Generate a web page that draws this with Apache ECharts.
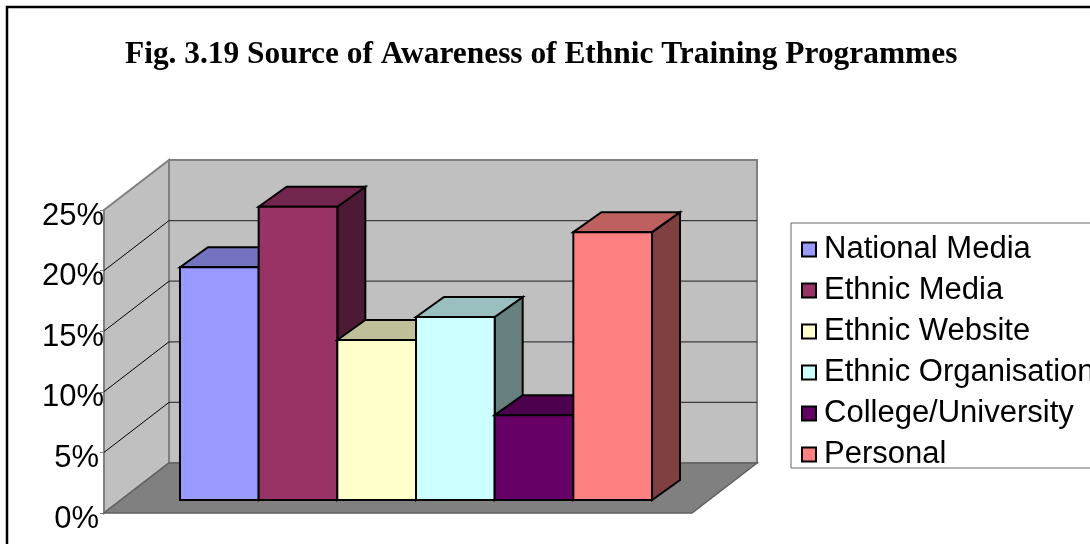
<!DOCTYPE html>
<html><head><meta charset="utf-8">
<style>html,body{margin:0;padding:0;background:#fff}#c{width:1090px;height:544px}</style>
<script src="https://cdn.jsdelivr.net/npm/echarts@6/dist/echarts.min.js"></script>
</head><body><div id="c"></div>
<script>
const titleText = 'Fig. 3.19 Source of Awareness of Ethnic Training Programmes';
const seriesNames = ['National Media','Ethnic Media','Ethnic Website','Ethnic Organisation','College/University','Personal'];
const seriesValues = [19.2,24.2,13.2,15.1,7.0,22.1];
const seriesColors = ['#9999FF','#993366','#FFFFCC','#CCFFFF','#660066','#FF8080'];
const yTicks = [0,5,10,15,20,25];

const wallDepth = [65,-50], barDepth = [28,-20], barFront = [18,-13], barShare = 0.1338;
function shade(hex,f){
  const n=parseInt(hex.slice(1),16);
  return 'rgb('+[(n>>16)&255,(n>>8)&255,n&255].map(c=>Math.round(c*f)).join(',')+')';
}
function poly(points,fill,stroke,lw){
  return {type:'polygon',shape:{points},style:{fill,stroke,lineWidth:lw,lineJoin:'miter'}};
}
function line(a,b,stroke,lw){
  return {type:'line',shape:{x1:a[0],y1:a[1],x2:b[0],y2:b[1]},style:{stroke,lineWidth:lw}};
}
function renderWalls(params,api){
  const s=params.coordSys, L=s.x, R=s.x+s.width;
  const y0=api.coord([0,0])[1], yT=api.coord([0,yTicks[yTicks.length-1]])[1];
  const dx=wallDepth[0], dy=wallDepth[1], edge='#808080';
  const ch=[
    poly([[L+dx,yT+dy],[R+dx,yT+dy],[R+dx,y0+dy],[L+dx,y0+dy]],'#C0C0C0',edge,2),
    poly([[L,yT],[L+dx,yT+dy],[L+dx,y0+dy],[L,y0]],'#C0C0C0',edge,2)
  ];
  yTicks.slice(1,-1).forEach(v=>{
    const y=api.coord([0,v])[1];
    ch.push(line([L,y],[L+dx,y+dy],'#000',1));
    ch.push(line([L+dx,y+dy],[R+dx,y+dy],'#3c3c3c',1.2));
  });
  ch.push(poly([[L,y0],[L+dx,y0+dy],[R+dx,y0+dy],[R,y0]],'#808080','#606060',1.5));
  return {type:'group',children:ch};
}
function makeBar(i){
  return function(params,api){
    const c=api.coord([0,api.value(1)]), base=api.coord([0,0]);
    const w=api.size([1,0])[0]*barShare;
    const x1=c[0]+(i-seriesNames.length/2)*w+barFront[0], x2=x1+w;
    const yT=c[1]+barFront[1], yB=base[1]+barFront[1];
    const dx=barDepth[0], dy=barDepth[1], col=seriesColors[i];
    return {type:'group',children:[
      poly([[x2,yT],[x2+dx,yT+dy],[x2+dx,yB+dy],[x2,yB]],shade(col,0.5),'#000',2),
      poly([[x1,yT],[x1+dx,yT+dy],[x2+dx,yT+dy],[x2,yT]],shade(col,0.75),'#000',2),
      poly([[x1,yT],[x2,yT],[x2,yB],[x1,yB]],col,'#000',2)
    ]};
  };
}
const chart=echarts.init(document.getElementById('c'),null,{renderer:'canvas'});
chart.setOption({
  animation:false,
  backgroundColor:'#fff',
  title:{text:titleText,left:125,top:39,padding:0,
    textStyle:{fontFamily:'Liberation Serif',fontWeight:'bold',fontSize:31.4,color:'#000'}},
  grid:{left:104,right:398,top:210,bottom:31},
  xAxis:{type:'category',data:['Source'],axisLine:{show:false},axisTick:{show:false},axisLabel:{show:false},splitLine:{show:false}},
  yAxis:{type:'value',min:0,max:25,interval:5,
    axisLabel:{margin:0,
      formatter:v=>(v<10?'{one|'+v+'%}':'{two|'+v+'%}'),
      rich:{
        one:{fontFamily:'Liberation Sans',fontSize:31,color:'#000',padding:[12,5,0,0]},
        two:{fontFamily:'Liberation Sans',fontSize:31,color:'#000',padding:[12,0,0,0]}
      }},
    axisLine:{show:false},axisTick:{show:true,length:4,lineStyle:{color:'#808080'}},splitLine:{show:false}},
  legend:{orient:'vertical',left:791,top:223,data:seriesNames,icon:'rect',
    itemWidth:14,itemHeight:14,itemGap:10,padding:[11,30,-2,10],
    backgroundColor:'#fff',borderColor:'#666',borderWidth:1,borderRadius:0,
    itemStyle:{borderColor:'#000',borderWidth:2},
    selectedMode:false,
    textStyle:{fontFamily:'Liberation Sans',fontSize:31,color:'#000',padding:[0,0,0,3]}},
  graphic:[{type:'rect',z:100,silent:true,shape:{x:7,y:7,width:1200,height:700},
    style:{fill:'none',stroke:'#000',lineWidth:2.5}}],
  series:[
    {type:'custom',name:'walls',z:1,clip:false,silent:true,data:[[0,0]],renderItem:renderWalls,encode:{x:0,y:1}},
    ...seriesNames.map((name,i)=>({type:'custom',name,z:2+i,clip:false,
      itemStyle:{color:seriesColors[i],borderColor:'#000',borderWidth:2},
      data:[[0,seriesValues[i]]],renderItem:makeBar(i),encode:{x:0,y:1}}))
  ]
});
</script></body></html>
